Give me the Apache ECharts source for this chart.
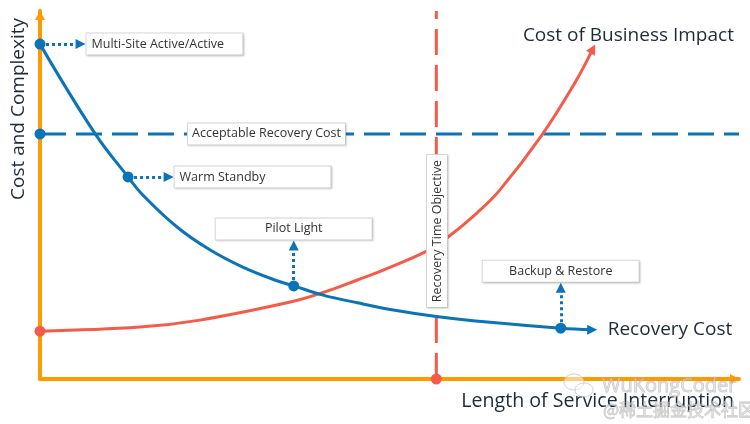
<!DOCTYPE html>
<html>
<head>
<meta charset="utf-8">
<script src="https://cdn.jsdelivr.net/npm/echarts@6/dist/echarts.min.js"></script>
<style>html,body{margin:0;padding:0;background:#fff;}#chart{width:750px;height:424px;}</style>
</head>
<body>
<div id="chart"></div>
<script>
// ---- data (conceptual units, 0..100 on both axes) ----
const recoveryX = [0, 7.9, 12.6, 14.7, 19.6, 24.3, 29.0, 33.9, 36.3, 40.5, 45.4, 50.1, 56.7, 64.4, 74.5, 79.0];
const recoveryY = [91.0, 66.6, 54.9, 50.0, 41.3, 35.1, 30.4, 26.7, 25.3, 22.8, 20.7, 18.9, 17.0, 15.4, 13.8, 13.4];
const impactX = [0, 14.3, 22.9, 35.8, 40.5, 45.4, 49.1, 55.4, 58.2, 62.5, 65.8, 71.8, 76.5, 79.1];
const impactY = [13.0, 14.1, 16.0, 20.9, 23.5, 26.9, 29.6, 34.8, 38.3, 45.1, 51.4, 66.3, 80.4, 89.7];
const tierNames = ['Multi-Site Active/Active', 'Warm Standby', 'Pilot Light', 'Backup & Restore'];
const tierIndex = [0, 2, 8, 14];
const tierPointer = ['right', 'right', 'up', 'up'];
const acceptableCost = 66.6;
const recoveryTimeObjective = 56.7;
const axisMax = 100;
const titles = {
  recovery: 'Recovery Cost',
  impact: 'Cost of Business Impact',
  acceptable: 'Acceptable Recovery Cost',
  rto: 'Recovery Time Objective',
  xName: 'Length of Service Interruption',
  yName: 'Cost and Complexity'
};

// ---- styles ----
const BLUE = '#0B73B7';
const RED = '#F55B4A';
const ORANGE = '#FF9900';
const DARK = '#1F2937';
const FONT = 'Open Sans';

const boxBase = {
  show: true, color: '#333', fontSize: 12.5, fontFamily: FONT,
  backgroundColor: '#fff', borderColor: '#d8d8d8', borderWidth: 1,
  padding: [0, 5], height: 21, lineHeight: 21,
  shadowColor: 'rgba(0,0,0,0.12)', shadowBlur: 2, shadowOffsetX: 1, shadowOffsetY: 1
};

const recoveryData = recoveryX.map((x, i) => {
  const item = { value: [x, recoveryY[i]] };
  if (i === recoveryX.length - 1) {
    item.symbol = 'triangle'; item.symbolSize = [10, 10]; item.symbolRotate = -90;
  }
  return item;
});
const impactData = impactX.map((x, i) => {
  const item = { value: [x, impactY[i]] };
  if (i === 0) { item.symbol = 'circle'; item.symbolSize = 11; }
  if (i === impactX.length - 1) {
    item.symbol = 'triangle'; item.symbolSize = [10, 10]; item.symbolRotate = -29;
  }
  return item;
});

const tierData = tierNames.map((n, i) => {
  const k = tierIndex[i];
  const right = tierPointer[i] === 'right';
  return {
    name: n,
    value: [recoveryX[k], recoveryY[k]],
    label: Object.assign({}, boxBase, {
      formatter: '{b}',
      position: right ? 'right' : 'top',
      distance: 41,
      width: 146,
      align: right ? 'left' : 'center'
    })
  };
});
const pointerLines = tierNames.map((n, i) => {
  const k = tierIndex[i];
  const x = recoveryX[k], y = recoveryY[k];
  const end = tierPointer[i] === 'right' ? [x + 5.8, y] : [x, y + 11.0];
  return [{ coord: [x, y] }, { coord: end }];
});

const lastR = recoveryX.length - 1, lastI = impactX.length - 1;
const annotations = [
  { value: [32.4, acceptableCost], label: Object.assign({}, boxBase, { formatter: titles.acceptable, position: 'inside', width: 147, align: 'center' }) },
  { value: [recoveryTimeObjective + 0.1, 40.2], label: Object.assign({}, boxBase, { formatter: titles.rto, position: 'inside', width: 142, height: 20, lineHeight: 20, rotate: 90, align: 'center' }) },
  { value: [recoveryX[lastR], recoveryY[lastR]], label: { show: true, formatter: titles.recovery, position: 'right', distance: 15, color: DARK, fontSize: 19, fontWeight: 500, fontFamily: FONT } },
  { value: [impactX[lastI], impactY[lastI]], label: { show: true, formatter: titles.impact, position: 'inside', align: 'right', offset: [141, -13], color: DARK, fontSize: 19, fontWeight: 500, fontFamily: FONT } }
];

const chart = echarts.init(document.getElementById('chart'), null, { renderer: 'canvas' });
chart.setOption({
  animation: false,
  backgroundColor: '#fff',
  grid: { left: 40, right: 11, top: 11, bottom: 45, containLabel: false },
  xAxis: {
    type: 'value', min: 0, max: axisMax,
    axisLine: { show: true, lineStyle: { color: ORANGE, width: 4 }, symbol: ['none', 'triangle'], symbolSize: [10, 9], symbolOffset: [0, -4.5] },
    axisTick: { show: false }, axisLabel: { show: false }, splitLine: { show: false }
  },
  yAxis: {
    type: 'value', min: 0, max: axisMax,
    axisLine: { show: true, lineStyle: { color: ORANGE, width: 4 }, symbol: ['none', 'triangle'], symbolSize: [10, 9], symbolOffset: [0, -4.5] },
    axisTick: { show: false }, axisLabel: { show: false }, splitLine: { show: false }
  },
  graphic: [
    { type: 'text', x: 19, y: 109, rotation: Math.PI / 2, style: { text: titles.yName, fill: DARK, font: '500 19px "Open Sans"', textAlign: 'center', textVerticalAlign: 'middle' } },
    { type: 'text', x: 734, y: 401, style: { text: titles.xName, fill: DARK, font: '500 19.6px "Open Sans"', textAlign: 'right', textVerticalAlign: 'middle' } },
    { type: 'text', x: 602, y: 386, z: 100, style: { text: 'WuKongCoder', fill: 'rgba(215,215,215,0.55)', stroke: 'rgba(160,160,160,0.6)', lineWidth: 0.8, font: '20px "Open Sans"', textAlign: 'left', textVerticalAlign: 'middle' } },
    { type: 'text', x: 603, y: 410, z: 100, style: { text: '@稀土掘金技术社区', fill: 'rgba(215,215,215,0.55)', stroke: 'rgba(160,160,160,0.6)', lineWidth: 0.8, font: '17px "Noto Sans CJK SC"', textAlign: 'left', textVerticalAlign: 'middle' } },
    { type: 'ellipse', z: 100, shape: { cx: 574, cy: 382, rx: 10, ry: 8 }, style: { fill: 'rgba(255,255,255,0.5)', stroke: 'rgba(190,190,190,0.7)', lineWidth: 1 } },
    { type: 'ellipse', z: 100, shape: { cx: 584, cy: 390, rx: 9, ry: 7 }, style: { fill: 'rgba(255,255,255,0.5)', stroke: 'rgba(190,190,190,0.7)', lineWidth: 1 } }
  ],
  series: [
    {
      name: 'accept', type: 'line', z: 3, clip: false, silent: true,
      data: [{ value: [0, acceptableCost], symbol: 'circle', symbolSize: 11 }, { value: [axisMax, acceptableCost], symbol: 'none' }],
      lineStyle: { color: BLUE, width: 3, type: [26, 10] }, itemStyle: { color: BLUE, opacity: 1 }
    },
    {
      name: 'rto', type: 'line', z: 3, clip: false, silent: true,
      data: [{ value: [recoveryTimeObjective, 0], symbol: 'circle', symbolSize: 11 }, { value: [recoveryTimeObjective, axisMax], symbol: 'none' }],
      lineStyle: { color: RED, width: 3, type: [26, 10] }, itemStyle: { color: RED, opacity: 1 }
    },
    {
      name: 'impact', type: 'line', z: 4, smooth: 0.4, clip: false, symbol: 'none', showSymbol: true,
      data: impactData, lineStyle: { color: RED, width: 3 }, itemStyle: { color: RED, opacity: 1 }
    },
    {
      name: 'recovery', type: 'line', z: 5, smooth: 0.4, clip: false, symbol: 'none', showSymbol: true,
      data: recoveryData, lineStyle: { color: BLUE, width: 3 }, itemStyle: { color: BLUE, opacity: 1 }
    },
    {
      name: 'tiers', type: 'scatter', z: 6, clip: false, symbol: 'circle', symbolSize: 11,
      itemStyle: { color: BLUE, opacity: 1 }, data: tierData,
      markLine: {
        silent: true, symbol: ['none', 'triangle'], symbolSize: 10,
        lineStyle: { color: BLUE, width: 3, type: [3, 3], opacity: 1 },
        label: { show: false }, emphasis: { disabled: true },
        data: pointerLines
      }
    },
    {
      name: 'annotations', type: 'scatter', z: 10, clip: false, symbol: 'circle', symbolSize: 1,
      itemStyle: { color: 'rgba(0,0,0,0)', opacity: 1 }, data: annotations
    }
  ]
});
</script>
</body>
</html>
